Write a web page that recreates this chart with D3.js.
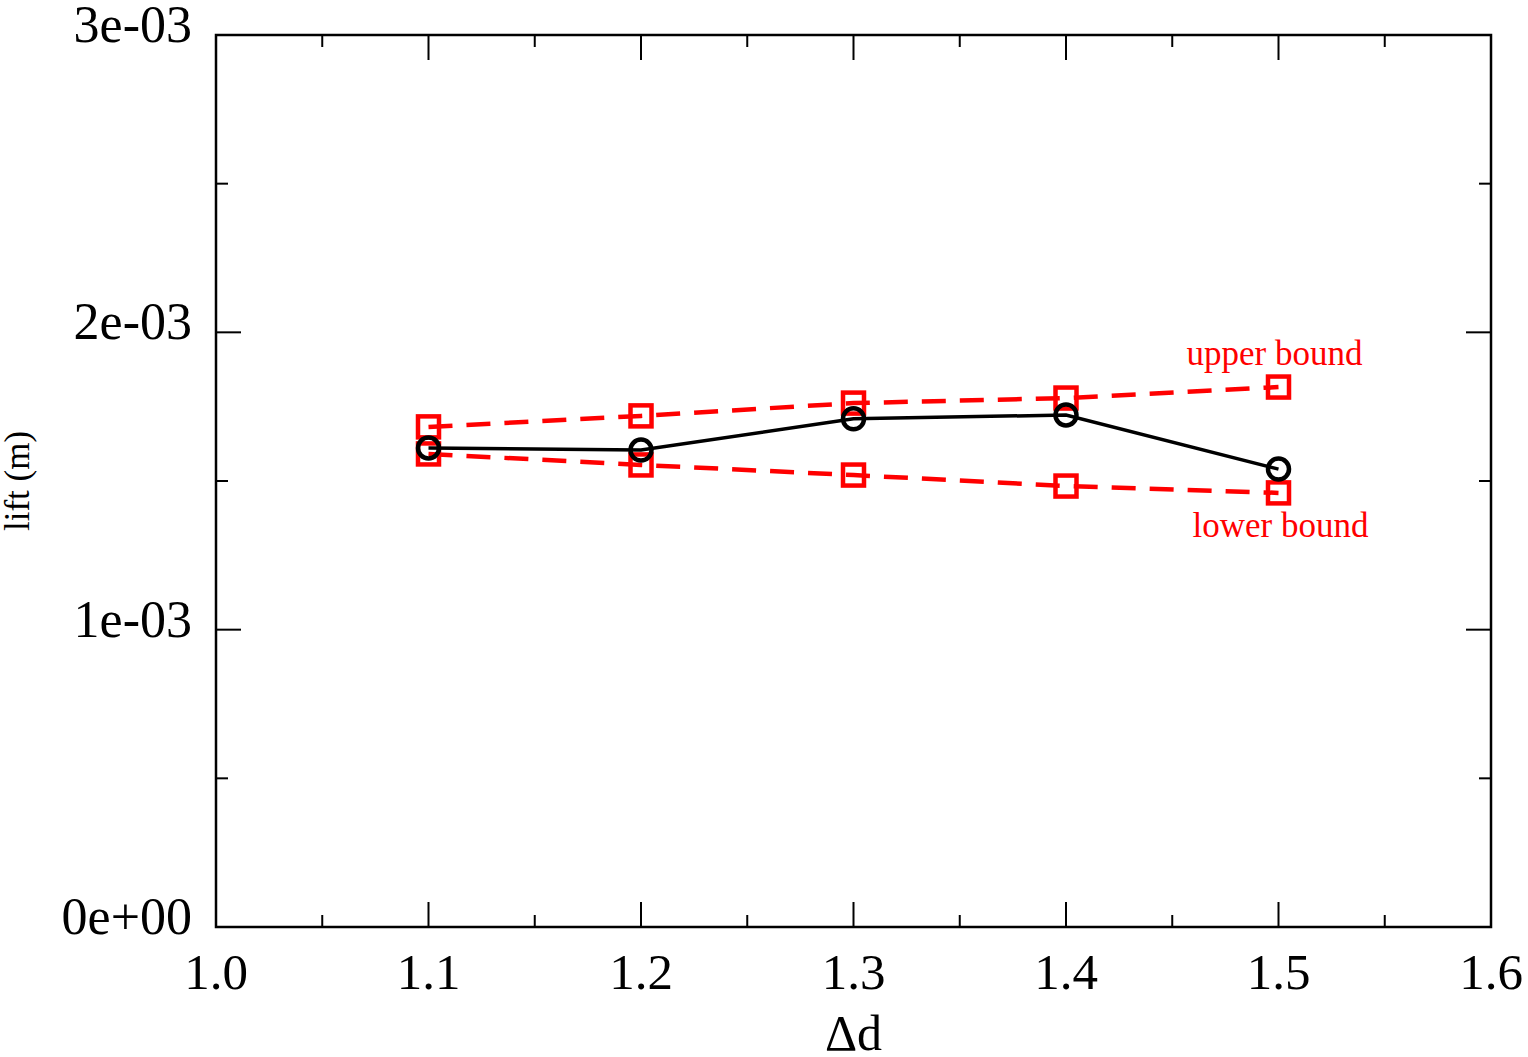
<!DOCTYPE html>
<html>
<head>
	<script src="https://cdnjs.cloudflare.com/ajax/libs/d3/7.8.2/d3.min.js"></script>
	<style>
		body { margin: 0 ; background: white ; }
		svg { display: block ; }
		text { font-family: "Liberation Serif", "Times New Roman", serif ; }
	</style>
</head>
<body>
	<svg id="canvas"></svg>
</body>
<script>
	// values
	let dd = [ 1.1, 1.2, 1.3, 1.4, 1.5 ] ;
	let lift = [ 1.611e-3, 1.604e-3, 1.709e-3, 1.722e-3, 1.540e-3 ] ;
	let upper = [ 1.682e-3, 1.719e-3, 1.762e-3, 1.779e-3, 1.816e-3 ] ;
	let lower = [ 1.591e-3, 1.554e-3, 1.520e-3, 1.483e-3, 1.460e-3 ] ;
	let xTicks = [ 1.0, 1.1, 1.2, 1.3, 1.4, 1.5, 1.6 ] ;
	let xMinor = [ 1.05, 1.15, 1.25, 1.35, 1.45, 1.55 ] ;
	let yTicks = [ 0, 1e-3, 2e-3, 3e-3 ] ;
	let yLabels = [ "0e+00", "1e-03", "2e-03", "3e-03" ] ;
	let yMinor = [ 0.5e-3, 1.5e-3, 2.5e-3 ] ;

	let geom = {
		width: 1528,
		height: 1057,
		margin: { left: 216, right: 37, top: 35, bottom: 130 }
	} ;
	let scales = {
		x: d3.scaleLinear()
			.domain( [1.0, 1.6] )
			.range( [ geom.margin.left, geom.width - geom.margin.right ] ),
		y: d3.scaleLinear()
			.domain( [0, 3e-3] )
			.range( [ geom.height - geom.margin.bottom, geom.margin.top ] )
	} ;
	let x0 = scales.x.range()[0], x1 = scales.x.range()[1] ;
	let y0 = scales.y.range()[0], y1 = scales.y.range()[1] ;

	let svg = d3.select( 'svg' )
		.attr( 'width', geom.width )
		.attr( 'height', geom.height ) ;

	// ticks, mirrored on all four sides
	let major = 25, minor = 12 ;
	let tickg = svg.append( 'g' ).attr( 'stroke', 'black' ).attr( 'stroke-width', 2 ) ;
	let xt = xTicks.map( v => ({ v: v, len: major }) ).concat( xMinor.map( v => ({ v: v, len: minor }) ) ) ;
	let yt = yTicks.map( v => ({ v: v, len: major }) ).concat( yMinor.map( v => ({ v: v, len: minor }) ) ) ;
	xt.forEach( t => {
		tickg.append( 'line' ).attr( 'x1', scales.x(t.v) ).attr( 'x2', scales.x(t.v) )
			.attr( 'y1', y0 ).attr( 'y2', y0 - t.len ) ;
		tickg.append( 'line' ).attr( 'x1', scales.x(t.v) ).attr( 'x2', scales.x(t.v) )
			.attr( 'y1', y1 ).attr( 'y2', y1 + t.len ) ;
	} ) ;
	yt.forEach( t => {
		tickg.append( 'line' ).attr( 'y1', scales.y(t.v) ).attr( 'y2', scales.y(t.v) )
			.attr( 'x1', x0 ).attr( 'x2', x0 + t.len ) ;
		tickg.append( 'line' ).attr( 'y1', scales.y(t.v) ).attr( 'y2', scales.y(t.v) )
			.attr( 'x1', x1 ).attr( 'x2', x1 - t.len ) ;
	} ) ;

	// frame
	svg.append( 'rect' )
		.attr( 'x', x0 ).attr( 'y', y1 )
		.attr( 'width', x1 - x0 ).attr( 'height', y0 - y1 )
		.attr( 'fill', 'none' ).attr( 'stroke', 'black' ).attr( 'stroke-width', 2.5 ) ;

	// tick labels
	svg.append( 'g' ).selectAll( 'text' ).data( xTicks ).join( 'text' )
		.attr( 'x', d => scales.x(d) )
		.attr( 'y', y0 + 62 )
		.attr( 'text-anchor', 'middle' )
		.attr( 'font-size', 51 )
		.text( d => d.toFixed(1) ) ;
	svg.append( 'g' ).selectAll( 'text' ).data( yTicks ).join( 'text' )
		.attr( 'x', x0 - 24 )
		.attr( 'y', d => scales.y(d) + 7 )
		.attr( 'text-anchor', 'end' )
		.attr( 'font-size', 52 )
		.text( (d, i) => yLabels[i] ) ;

	// axis titles
	svg.append( 'text' )
		.attr( 'x', (x0 + x1) / 2 )
		.attr( 'y', 1050 )
		.attr( 'text-anchor', 'middle' )
		.attr( 'font-size', 50 )
		.text( '\u0394d' ) ;
	svg.append( 'text' )
		.attr( 'transform', 'translate(29,' + ((y0 + y1) / 2) + ') rotate(-90)' )
		.attr( 'text-anchor', 'middle' )
		.attr( 'font-size', 35 )
		.text( 'lift (m)' ) ;

	// bounds: red dashed lines with open squares
	let line = d3.line().x( (d, i) => scales.x(dd[i]) ).y( d => scales.y(d) ) ;
	[ upper, lower ].forEach( s => {
		svg.append( 'path' )
			.attr( 'd', line(s) )
			.attr( 'fill', 'none' ).attr( 'stroke', '#ff0000' )
			.attr( 'stroke-width', 4.5 ).attr( 'stroke-dasharray', '24,14' ) ;
		svg.append( 'g' ).selectAll( 'rect' ).data( s ).join( 'rect' )
			.attr( 'x', (d, i) => scales.x(dd[i]) - 10.5 )
			.attr( 'y', d => scales.y(d) - 10.5 )
			.attr( 'width', 21 ).attr( 'height', 21 )
			.attr( 'fill', 'none' ).attr( 'stroke', '#ff0000' ).attr( 'stroke-width', 4.5 ) ;
	} ) ;

	// lift: black solid line with open circles
	svg.append( 'path' )
		.attr( 'd', line(lift) )
		.attr( 'fill', 'none' ).attr( 'stroke', 'black' ).attr( 'stroke-width', 3.5 ) ;
	svg.append( 'g' ).selectAll( 'circle' ).data( lift ).join( 'circle' )
		.attr( 'cx', (d, i) => scales.x(dd[i]) )
		.attr( 'cy', d => scales.y(d) )
		.attr( 'r', 10.5 )
		.attr( 'fill', 'none' ).attr( 'stroke', 'black' ).attr( 'stroke-width', 4.5 ) ;

	// series labels
	let last = dd.length - 1 ;
	svg.append( 'text' )
		.attr( 'x', scales.x(dd[last]) - 4 )
		.attr( 'y', scales.y(upper[last]) - 22 )
		.attr( 'text-anchor', 'middle' )
		.attr( 'font-size', 35 )
		.attr( 'fill', '#ff0000' )
		.text( 'upper bound' ) ;
	svg.append( 'text' )
		.attr( 'x', scales.x(dd[last]) + 2 )
		.attr( 'y', scales.y(lower[last]) + 44 )
		.attr( 'text-anchor', 'middle' )
		.attr( 'font-size', 35 )
		.attr( 'fill', '#ff0000' )
		.text( 'lower bound' ) ;
</script>
</html>
